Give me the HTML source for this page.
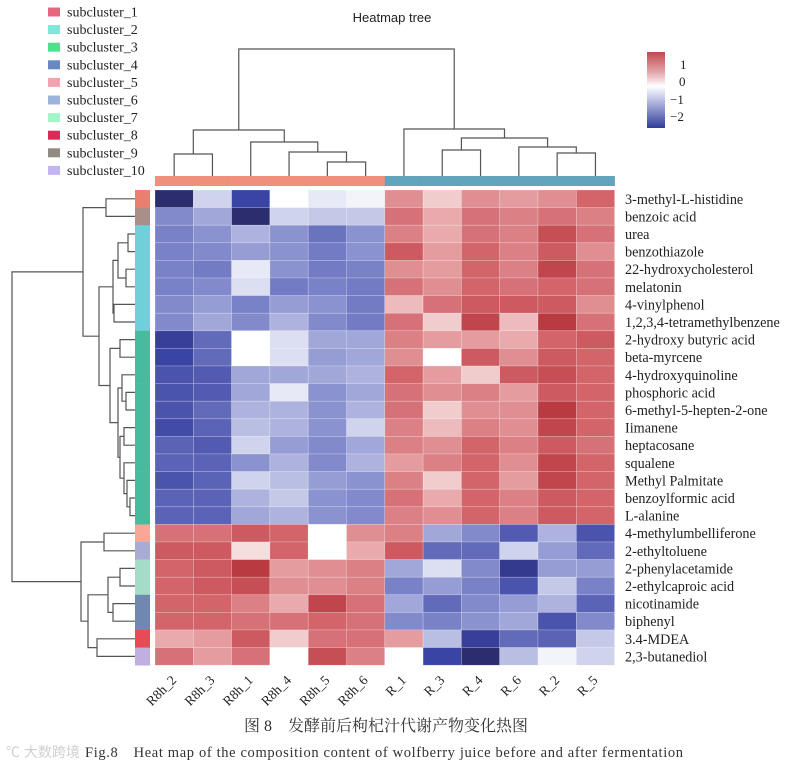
<!DOCTYPE html>
<html><head><meta charset="utf-8"><style>
body{margin:0;background:#fff;}
svg{display:block;font-family:"Liberation Serif","Noto Serif CJK SC",serif;}
</style></head><body>
<svg id="chart" width="787" height="768" viewBox="0 0 787 768"></svg>
<script>
const rowLabels=["3-methyl-L-histidine","benzoic acid","urea","benzothiazole","22-hydroxycholesterol","melatonin","4-vinylphenol","1,2,3,4-tetramethylbenzene","2-hydroxy butyric acid","beta-myrcene","4-hydroxyquinoline","phosphoric acid","6-methyl-5-hepten-2-one","Iimanene","heptacosane","squalene","Methyl Palmitate","benzoylformic acid","L-alanine","4-methylumbelliferone","2-ethyltoluene","2-phenylacetamide","2-ethylcaproic acid","nicotinamide","biphenyl","3.4-MDEA","2,3-butanediol"];
const colLabels=["R8h_2","R8h_3","R8h_1","R8h_4","R8h_5","R8h_6","R_1","R_3","R_4","R_6","R_2","R_5"];
const values=[
[-2.5,-0.4,-2,0,-0.2,-0.1,0.7,0.3,0.7,0.6,0.7,1.0],
[-1.1,-0.8,-2.5,-0.4,-0.5,-0.5,0.9,0.5,0.9,0.8,0.9,0.8],
[-1.2,-1.0,-0.7,-1.0,-1.4,-1.0,0.8,0.5,0.9,0.8,1.2,0.9],
[-1.2,-1.1,-0.9,-1.0,-1.3,-1.0,1.1,0.6,1.0,0.8,1.1,0.7],
[-1.2,-1.3,-0.2,-1.0,-1.3,-1.2,0.7,0.6,1.0,0.8,1.3,0.9],
[-1.2,-1.1,-0.3,-1.3,-1.2,-1.3,0.9,0.7,1.0,0.9,1.0,0.9],
[-1.1,-0.9,-1.2,-0.9,-1.0,-1.3,0.4,0.9,1.1,1.1,1.1,0.7],
[-1.1,-0.8,-1.1,-0.7,-1.1,-1.3,0.9,0.3,1.3,0.4,1.4,0.9],
[-2.1,-1.5,0,-0.3,-0.8,-0.8,0.8,0.6,0.6,0.5,1.0,1.1],
[-2.0,-1.5,0,-0.3,-0.9,-0.8,0.7,0,1.1,0.7,1.1,1.0],
[-1.8,-1.7,-0.8,-0.8,-0.8,-0.7,1.0,0.6,0.3,1.1,1.2,1.0],
[-1.8,-1.7,-0.8,-0.2,-1.0,-0.8,0.9,0.7,0.8,0.6,1.1,1.0],
[-1.8,-1.5,-0.7,-0.7,-1.0,-0.7,0.9,0.3,0.7,0.7,1.4,1.0],
[-1.9,-1.6,-0.6,-0.7,-1.0,-0.4,0.8,0.4,0.8,0.7,1.3,1.0],
[-1.6,-1.7,-0.4,-0.9,-1.1,-0.8,0.8,0.7,1.0,0.8,1.1,0.9],
[-1.6,-1.6,-1.0,-0.7,-1.1,-0.7,0.6,0.8,1.0,0.7,1.3,1.0],
[-1.8,-1.6,-0.4,-0.6,-0.9,-1.0,0.8,0.3,1.0,0.6,1.3,1.0],
[-1.6,-1.6,-0.7,-0.5,-1.0,-1.1,0.9,0.5,1.0,0.8,1.1,1.0],
[-1.6,-1.6,-0.8,-0.7,-1.0,-1.1,0.8,0.7,1.0,0.8,1.1,1.0],
[0.9,0.9,1.1,1.0,0,0.7,0.8,-0.8,-1.1,-1.7,-0.7,-1.8],
[1.1,1.1,0.2,1.0,0,0.5,1.1,-1.5,-1.5,-0.4,-0.9,-1.5],
[1.0,1.1,1.4,0.6,0.7,0.8,-0.8,-0.3,-1.1,-2.2,-0.9,-0.9],
[1.0,1.1,1.2,0.7,0.7,0.8,-1.2,-0.9,-1.2,-1.8,-0.5,-1.2],
[1.0,1.0,0.8,0.5,1.3,0.9,-0.8,-1.5,-1.1,-0.9,-0.7,-1.6],
[1.0,1.0,0.9,0.9,1.0,0.9,-1.1,-1.2,-1.0,-0.8,-1.8,-1.1],
[0.5,0.6,1.1,0.3,0.9,0.9,0.6,-0.6,-2.1,-1.5,-1.6,-0.5],
[0.9,0.6,0.9,0,1.2,0.8,0,-2.0,-2.5,-0.6,-0.1,-0.4]];
const rowGroups=[0,1,2,2,2,2,2,2,3,3,3,3,3,3,3,3,3,3,3,4,5,6,6,7,7,8,9];
const colGroups=[0,0,0,0,0,0,1,1,1,1,1,1];
const legendNames=["subcluster_1","subcluster_2","subcluster_3","subcluster_4","subcluster_5","subcluster_6","subcluster_7","subcluster_8","subcluster_9","subcluster_10"];
const legendColors=["#e66680","#7ce8d8","#50e08c","#6888c4","#f3a3b0","#9cb4dc","#a4f4c8","#e02858","#908a80","#c4b4f4"];
const rowBarColors=["#ec7e70","#a89088","#70d0da","#46bc9c","#f5a898","#a8acd4","#a4dcc8","#7088b0","#e84a58","#c0b0e0"];
const colBarColors=["#f0907c","#62a4bc"];
const colTree=[[[0,1,154],[2,[3,[4,5,162],152],142],130],[6,[[7,8,150],[9,[10,11,153],147],138],129],49];
const rowTree=[[[0,1,106],[[[[2,3,128],[4,5,126],118],[6,7,114],113],[[8,9,120],[[10,[11,12,126],122],[[13,14,124],[15,[16,[17,18,130],127],124],120],118],110],99],83],[[19,20,104],[[[21,22,120],[23,24,113],108],[25,26,97],88],81],12];

const NS="http://www.w3.org/2000/svg";
const svg=document.getElementById('chart');
function mk(t,a,p){const e=document.createElementNS(NS,t);for(const k in a)e.setAttribute(k,a[k]);(p||svg).appendChild(e);return e;}
const X0=155,Y0=190,CW=38.3,RH=17.6;
const xC=i=>X0+i*CW, yR=j=>Y0+j*RH;
function lerp(a,b,t){return a.map((v,i)=>Math.round(v+(b[i]-v)*t));}
const stops=[[-2.6,[40,40,100]],[-2,[58,68,164]],[-1,[138,146,208]],[0,[255,255,255]],[0.5,[232,170,172]],[1,[210,100,106]],[1.5,[180,48,56]]];
function color(v){if(v<=stops[0][0])return 'rgb('+stops[0][1]+')';for(let i=1;i<stops.length;i++){if(v<=stops[i][0]){const t=(v-stops[i-1][0])/(stops[i][0]-stops[i-1][0]);return 'rgb('+lerp(stops[i-1][1],stops[i][1],t)+')';}}return 'rgb('+stops[stops.length-1][1]+')';}

let t=mk('text',{x:392,y:22,'font-size':13,'text-anchor':'middle','font-family':'Liberation Sans, sans-serif',fill:'#222'});t.textContent='Heatmap tree';



const lg=mk('g',{});


legendNames.forEach((n,i)=>{const y=12+i*17.6;
 const g=mk('g',{},lg);
 
 
 mk('rect',{x:48,y:y-4.5,width:12,height:9,fill:legendColors[i]},g);
 const tx=mk('text',{x:67,y:y+4.5,'font-size':14,fill:'#222'},g);tx.textContent=n;});

const hm=mk('g',{});


values.forEach((row,j)=>row.forEach((v,i)=>{
 const r=mk('rect',{x:xC(i),y:yR(j),width:CW,height:RH,fill:color(v),stroke:'rgba(255,255,255,0.35)','stroke-width':0.6},hm);
 
 
}));

rowGroups.forEach((g,j)=>{const r=mk('rect',{x:135,y:yR(j),width:15,height:RH+0.3,fill:rowBarColors[g]});
 
 });
colGroups.forEach((g,i)=>{const r=mk('rect',{x:xC(i),y:176,width:CW+0.3,height:10,fill:colBarColors[g]});
 
 });

rowLabels.forEach((n,j)=>{const tx=mk('text',{x:625,y:yR(j)+RH/2+5,'font-size':14.2,fill:'#222'});tx.textContent=n;
 
 });
colLabels.forEach((n,i)=>{const cx=xC(i)+CW/2+3,cy=681;
 const tx=mk('text',{x:cx,y:cy,'font-size':13.5,fill:'#222','text-anchor':'end',transform:`rotate(-45 ${cx} ${cy})`});tx.textContent=n;
 
 });

const dg=mk('g',{stroke:'#555','stroke-width':1.2,fill:'none'});


function drawCol(n){if(typeof n==='number')return {p:xC(n)+CW/2,h:176};
 const a=drawCol(n[0]),b=drawCol(n[1]),h=n[2];
 mk('path',{d:`M${a.p},${a.h}V${h}H${b.p}V${b.h}`},dg);return {p:(a.p+b.p)/2,h:h};}
function drawRow(n){if(typeof n==='number')return {p:yR(n)+RH/2,h:135};
 const a=drawRow(n[0]),b=drawRow(n[1]),h=n[2];
 mk('path',{d:`M${a.h},${a.p}H${h}V${b.p}H${b.h}`},dg);return {p:(a.p+b.p)/2,h:h};}
drawCol(colTree);drawRow(rowTree);

const defs=mk('defs',{});
const gr=mk('linearGradient',{id:'cb',x1:0,y1:0,x2:0,y2:1},defs);
[[0,'#c04850'],[0.25,'#e0a0a4'],[0.45,'#ffffff'],[0.6,'#c8cce8'],[1,'#303c98']].forEach(s=>mk('stop',{offset:s[0],'stop-color':s[1]},gr));
const cb=mk('rect',{x:647,y:52,width:18,height:76,fill:'url(#cb)'});


[["1",680,69],["0",679,86],["\u22121",670,104],["\u22122",670,121]].forEach(a=>{const tx=mk('text',{x:a[1],y:a[2],'font-size':13,fill:'#222'});tx.textContent=a[0];
 
 });

let c1=mk('text',{x:386,y:731,'font-size':16,'text-anchor':'middle',fill:'#333','font-family':'Liberation Serif, Noto Serif CJK SC, serif'});c1.textContent='图 8　发酵前后枸杞汁代谢产物变化热图';


let c2=mk('text',{x:85,y:757,'font-size':14.5,fill:'#333',textLength:598});c2.textContent='Fig.8　Heat map of the composition content of wolfberry juice before and after fermentation';


let w=mk('text',{x:6,y:757,'font-size':14,fill:'#d0d0d0','font-family':'Liberation Sans, Noto Sans CJK SC, sans-serif'});w.textContent='℃ 大数跨境';


</script>
</body></html>
